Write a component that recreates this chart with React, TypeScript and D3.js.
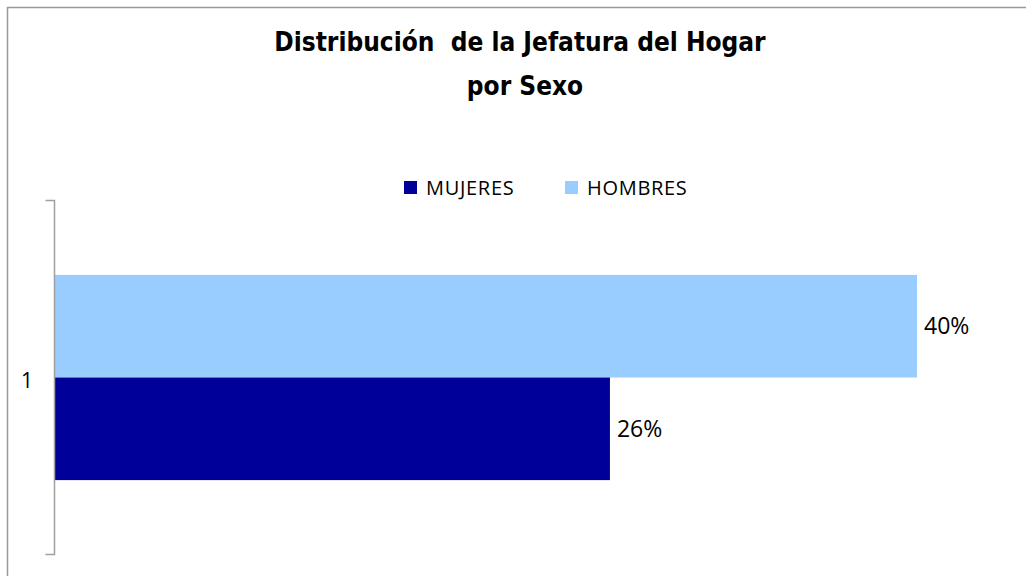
import { useEffect, useRef } from 'react';
import * as d3 from 'd3';

const CATEGORIES = ['1'];
const SERIES = ['HOMBRES', 'MUJERES'];
const LEGEND_ORDER = ['MUJERES', 'HOMBRES'];
const HOMBRES = [0.40];
const MUJERES = [0.2576];
const TITLE = ['Distribución  de la Jefatura del Hogar', 'por Sexo'];

const COLORS: Record<string, string> = {
  MUJERES: '#000099',
  HOMBRES: '#99CCFF',
};

const W = 1026, H = 576;

export default function App() {
  const svgRef = useRef<SVGSVGElement>(null);

  useEffect(() => {
    if (!svgRef.current) return;
    const svg = d3.select(svgRef.current);
    svg.selectAll('*').remove();

    const values: Record<string, number[]> = { HOMBRES, MUJERES };

    // chart area border
    svg.append('rect')
      .attr('x', 7.5).attr('y', 7.5)
      .attr('width', W + 10).attr('height', H + 10)
      .attr('fill', '#fff').attr('stroke', '#999').attr('stroke-width', 1.5);

    // title
    const titleG = svg.append('g')
      .attr('font-family', '"Liberation Sans Narrow", "DejaVu Sans Condensed", Arial, sans-serif')
      .attr('font-weight', 'bold').attr('font-size', 26).attr('fill', '#000')
      .attr('text-anchor', 'middle');
    titleG.append('text').attr('x', 520).attr('y', 51)
      .attr('xml:space', 'preserve').style('white-space', 'pre')
      .text(TITLE[0]);
    titleG.append('text').attr('x', 525).attr('y', 95).text(TITLE[1]);

    // scales
    const x = d3.scaleLinear().domain([0, 0.40]).range([54.5, 917]);
    const y = d3.scaleBand().domain(CATEGORIES).range([200, 555]).paddingInner(0).paddingOuter(0.73 / 2);
    const ySub = d3.scaleBand().domain(SERIES).range([0, y.bandwidth()]);

    const g = svg.append('g');

    CATEGORIES.forEach((cat, i) => {
      SERIES.forEach((s) => {
        const v = values[s][i];
        const y0 = (y(cat) ?? 0) + (ySub(s) ?? 0);
        g.append('rect')
          .attr('x', x(0)).attr('y', y0)
          .attr('width', x(v) - x(0)).attr('height', ySub.bandwidth())
          .attr('fill', COLORS[s]);
        g.append('text')
          .attr('x', x(v) + 7).attr('y', y0 + ySub.bandwidth() / 2 + 8)
          .attr('font-family', '"Open Sans", sans-serif').attr('font-size', 23)
          .attr('fill', '#000')
          .text(d3.format('.0%')(v));
      });
    });

    // category axis
    const axisG = svg.append('g').attr('transform', `translate(${x(0)},0)`);
    axisG.call(
      d3.axisLeft(y.copy().paddingOuter(0)).tickSize(0).tickPadding(0).tickFormat(() => '')
    );
    axisG.select('.domain').attr('stroke', '#a0a0a0').attr('stroke-width', 1.5)
      .attr('d', 'M-9,200.5H0V554.5H-9');
    axisG.selectAll('.tick').remove();
    CATEGORIES.forEach((cat) => {
      svg.append('text')
        .attr('x', 27).attr('y', (y(cat) ?? 0) + y.bandwidth() / 2 + 10)
        .attr('text-anchor', 'middle')
        .attr('font-family', '"Open Sans", sans-serif').attr('font-size', 21)
        .attr('fill', '#000')
        .text(cat);
    });

    // legend
    const legendX: Record<string, number> = { MUJERES: 404, HOMBRES: 565 };
    LEGEND_ORDER.forEach((s) => {
      const lg = svg.append('g').attr('transform', `translate(${legendX[s]},181)`);
      lg.append('rect').attr('width', 13).attr('height', 13).attr('fill', COLORS[s]);
      lg.append('text')
        .attr('x', 22).attr('y', 13.5)
        .attr('font-family', '"Open Sans", sans-serif').attr('font-size', 20)
        .attr('letter-spacing', 0.7)
        .attr('fill', '#000')
        .text(s);
    });
  }, []);

  return (
    <svg
      ref={svgRef}
      width={W}
      height={H}
      viewBox={`0 0 ${W} ${H}`}
      style={{ position: 'absolute', left: 0, top: 0, display: 'block' }}
    />
  );
}
